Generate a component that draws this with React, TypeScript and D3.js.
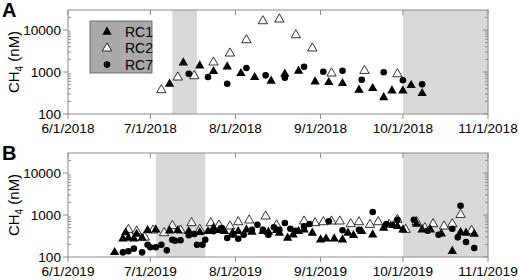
import React from 'react';
import * as d3 from 'd3';

// ---------- DATA ----------
const SERIES_NAMES = ['RC1', 'RC2', 'RC7'];
const Y_TICKS = [100, 1000, 10000];
const Y_DOMAIN: [number, number] = [100, 30000];

const RC1_2018: [string, number][] = [
  ['7/8', 518], ['7/13', 1664], ['7/19', 1413], ['7/24', 1040], ['7/29', 1337],
  ['8/3', 931], ['8/8', 748], ['8/14', 611], ['8/19', 896], ['8/24', 1057],
  ['8/30', 588], ['9/4', 569], ['9/9', 538], ['9/15', 373], ['9/20', 409],
  ['9/24', 247], ['9/27', 359], ['10/1', 359], ['10/4', 482], ['10/8', 311],
];
const RC2_2018: [string, number][] = [
  ['7/5', 373], ['7/11', 748], ['7/17', 803], ['7/24', 1702], ['7/30', 2786],
  ['8/5', 5780], ['8/11', 16370], ['8/17', 17990], ['8/23', 7600], ['8/29', 3664],
  ['9/5', 931], ['9/17', 1074], ['9/29', 896],
];
const RC7_2018: [string, number][] = [
  ['7/15', 912], ['7/22', 760], ['7/29', 526], ['8/5', 1245], ['8/12', 834],
  ['8/19', 731], ['8/26', 1337], ['9/2', 1017], ['9/9', 1074], ['9/16', 656],
  ['9/24', 989], ['10/1', 634], ['10/8', 509],
];

const RC1_2019: [string, number][] = [
  ['6/18', 129], ['6/21', 273], ['6/22', 380], ['6/23', 283], ['6/25', 273],
  ['6/26', 350], ['6/28', 283], ['6/30', 432], ['7/3', 447], ['7/8', 423],
  ['7/11', 432], ['7/15', 409], ['7/19', 387], ['7/22', 409], ['7/24', 490],
  ['7/26', 432], ['7/28', 409], ['7/31', 373], ['8/2', 409], ['8/5', 447],
  ['8/7', 394], ['8/11', 409], ['8/13', 394], ['8/16', 432], ['8/17', 373],
  ['8/20', 283], ['8/22', 340], ['8/24', 409], ['8/26', 447], ['8/29', 373],
  ['9/1', 258], ['9/3', 273], ['9/6', 273], ['9/9', 258], ['9/11', 373],
  ['9/13', 329], ['9/16', 409], ['9/20', 340], ['9/24', 490], ['9/29', 538],
  ['10/1', 447], ['10/6', 611], ['10/8', 447], ['10/11', 447], ['10/15', 359],
  ['10/19', 137], ['10/22', 387], ['10/24', 373], ['10/27', 353],
];
const RC2_2019: [string, number][] = [
  ['6/23', 447], ['6/26', 409], ['6/29', 294], ['7/2', 432], ['7/6', 373],
  ['7/9', 556], ['7/12', 432], ['7/16', 646], ['7/19', 447], ['7/23', 646],
  ['7/26', 569], ['7/30', 538], ['8/2', 681], ['8/6', 748], ['8/12', 931],
  ['8/16', 569], ['8/26', 708], ['8/30', 646], ['9/2', 681], ['9/5', 708],
  ['9/8', 708], ['9/12', 611], ['9/15', 681], ['9/19', 588], ['9/22', 681],
  ['9/26', 588], ['9/29', 773], ['10/2', 447], ['10/6', 681], ['10/9', 490],
  ['10/12', 611], ['10/16', 538], ['10/19', 611], ['10/22', 1017], ['10/26', 423],
];
const RC7_2019: [string, number][] = [
  ['6/21', 129], ['6/23', 137], ['6/25', 158], ['6/28', 129], ['6/30', 196],
  ['7/1', 170], ['7/3', 170], ['7/5', 196], ['7/7', 144], ['7/9', 258],
  ['7/10', 244], ['7/12', 250], ['7/15', 329], ['7/17', 353], ['7/18', 196],
  ['7/20', 196], ['7/21', 258], ['7/24', 409], ['7/27', 490], ['7/29', 283],
  ['7/31', 340], ['8/2', 273], ['8/4', 340], ['8/7', 447], ['8/9', 588],
  ['8/11', 447], ['8/13', 340], ['8/15', 509], ['8/17', 447], ['8/19', 646],
  ['8/21', 472], ['8/23', 423], ['8/26', 538], ['8/28', 611], ['9/4', 708],
  ['9/9', 432], ['9/15', 447], ['9/20', 1179], ['9/25', 611], ['9/27', 588],
  ['9/29', 773], ['10/5', 773], ['10/10', 423], ['10/14', 340], ['10/19', 472],
  ['10/21', 294], ['10/22', 1664], ['10/24', 228], ['10/27', 164],
];

const SHADE_2018: [string, string][] = [['7/9', '7/18'], ['10/1', '11/1']];
const SHADE_2019: [string, string][] = [['7/3', '7/21'], ['10/1', '11/1']];

// ---------- LAYOUT ----------
const W = 519;
const H = 280;
const X0 = 68;
const X1 = 488;
const FONT = '"Liberation Sans", Arial, sans-serif';
const AXIS_COLOR = '#8c8c8c';

const parse = d3.timeParse('%m/%d/%Y');
const fmt = d3.timeFormat('%-m/%-d/%Y');

type PanelProps = {
  letter: string;
  year: number;
  top: number;
  bottom: number;
  rc1: [string, number][];
  rc2: [string, number][];
  rc7: [string, number][];
  shade: [string, string][];
  legend: boolean;
};

function Panel({ letter, year, top, bottom, rc1, rc2, rc7, shade, legend }: PanelProps) {
  const d = (s: string) => parse(`${s}/${year}`) as Date;
  const x = d3.scaleTime().domain([d('6/1'), d('11/1')]).range([X0, X1]);
  const y = d3.scaleLog().domain(Y_DOMAIN).range([bottom, top]);
  const months = d3.timeMonth.range(d('6/1'), d3.timeDay.offset(d('11/1'), 1));
  const tri = d3.symbol().type(d3.symbolTriangle).size(38)() as string;
  const minor: number[] = [];
  for (let e = 2; e <= 4; e++) {
    for (let m = 2; m <= 9; m++) {
      const v = m * Math.pow(10, e);
      if (v < Y_DOMAIN[1]) minor.push(v);
    }
  }
  const midY = (top + bottom) / 2;
  return (
    <g>
      {shade.map(([a, b], i) => (
        <rect key={i} x={x(d(a))} y={top} width={x(d(b)) - x(d(a))} height={bottom - top} fill="#d9d9d9" />
      ))}
      <rect x={X0} y={top} width={X1 - X0} height={bottom - top} fill="none" stroke={AXIS_COLOR} strokeWidth={1} />
      {months.map((m, i) => (
        <g key={i}>
          <line x1={x(m)} x2={x(m)} y1={bottom} y2={bottom + 5} stroke={AXIS_COLOR} />
          <line x1={x(m)} x2={x(m)} y1={top} y2={top + 5} stroke={AXIS_COLOR} />
          <text x={x(m)} y={bottom + 19} textAnchor="middle" fontSize={13.6} fontFamily={FONT} fill="#000">
            {fmt(m)}
          </text>
        </g>
      ))}
      {Y_TICKS.map((v) => (
        <g key={v}>
          <line x1={X0 - 5} x2={X0} y1={y(v)} y2={y(v)} stroke={AXIS_COLOR} />
          <line x1={X1 - 5} x2={X1} y1={y(v)} y2={y(v)} stroke={AXIS_COLOR} />
          <text x={X0 - 7} y={y(v) + 4.8} textAnchor="end" fontSize={13.6} fontFamily={FONT} fill="#000">
            {v}
          </text>
        </g>
      ))}
      {minor.map((v) => (
        <g key={'m' + v}>
          <line x1={X0} x2={X0 + 3} y1={y(v)} y2={y(v)} stroke={AXIS_COLOR} />
          <line x1={X1 - 3} x2={X1} y1={y(v)} y2={y(v)} stroke={AXIS_COLOR} />
        </g>
      ))}
      <text
        transform={`translate(${19},${midY}) rotate(-90)`}
        textAnchor="middle"
        fontSize={15}
        fontFamily={FONT}
        fill="#000"
      >
        CH<tspan fontSize={10} dy={4}>4</tspan>
        <tspan dy={-4}> (nM)</tspan>
      </text>
      <text x={2} y={top + 7} fontSize={20} fontWeight="bold" fontFamily={FONT} fill="#000">
        {letter}
      </text>
      {rc2.map(([dt, v], i) => (
        <path key={'b' + i} d={tri} transform={`translate(${x(d(dt))},${y(v)})`} fill="#fff" stroke="#000" strokeWidth={0.8} />
      ))}
      {rc1.map(([dt, v], i) => (
        <path key={'a' + i} d={tri} transform={`translate(${x(d(dt))},${y(v)})`} fill="#000" />
      ))}
      {rc7.map(([dt, v], i) => (
        <circle key={'c' + i} cx={x(d(dt))} cy={y(v)} r={3.3} fill="#000" />
      ))}
      {legend && (
        <g>
          <rect x={90} y={21} width={62} height={52} fill="#a9a9a9" stroke="#555" strokeWidth={0.8} />
          {SERIES_NAMES.map((n, i) => {
            const ly = 32 + i * 16.3;
            return (
              <g key={n}>
                {i === 0 && <path d={tri} transform={`translate(107,${ly})`} fill="#000" />}
                {i === 1 && <path d={tri} transform={`translate(107,${ly})`} fill="#fff" stroke="#000" strokeWidth={0.8} />}
                {i === 2 && <circle cx={107} cy={ly} r={3.3} fill="#000" />}
                <text x={125} y={ly + 5} fontSize={14} fontFamily={FONT} fill="#000">
                  {n}
                </text>
              </g>
            );
          })}
        </g>
      )}
    </g>
  );
}

export default function App() {
  return (
    <svg width={W} height={H} style={{ position: 'absolute', left: 0, top: 0, background: '#fff' }}>
      <rect width={W} height={H} fill="#fff" />
      <Panel letter="A" year={2018} top={10} bottom={114} rc1={RC1_2018} rc2={RC2_2018} rc7={RC7_2018} shade={SHADE_2018} legend />
      <Panel letter="B" year={2019} top={153} bottom={257} rc1={RC1_2019} rc2={RC2_2019} rc7={RC7_2019} shade={SHADE_2019} legend={false} />
    </svg>
  );
}
